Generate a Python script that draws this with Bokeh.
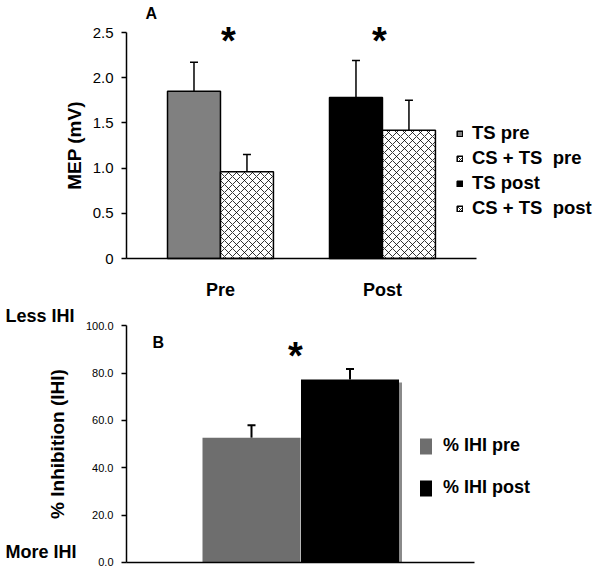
from bokeh.plotting import figure
from bokeh.models import (Range1d, FixedTicker, Whisker, TeeHead, Legend, LinearAxis,
                          LegendItem, Label, ColumnDataSource)
from bokeh.layouts import column
from bokeh.embed import file_html
from bokeh.resources import INLINE

FONT = "Liberation Sans"

# ---------------- Panel A data ----------------
groups = ["Pre", "Post"]
mep_series = ["TS pre", "CS + TS  pre", "TS post", "CS + TS  post"]
mep_group = ["Pre", "Pre", "Post", "Post"]
mep_value = [1.85, 0.96, 1.78, 1.42]
mep_error = [0.32, 0.19, 0.41, 0.33]
mep_ticks = [0, 0.5, 1.0, 1.5, 2.0, 2.5]
mep_tick_labels = ["0", "0.5", "1.0", "1.5", "2.0", "2.5"]

# ---------------- Panel B data ----------------
ihi_series = ["% IHI pre", "% IHI post"]
ihi_value = [52.7, 77.3]
ihi_error = [5.3, 4.5]
ihi_ticks = [0, 20, 40, 60, 80, 100]
ihi_tick_labels = ["0.0", "20.0", "40.0", "60.0", "80.0", "100.0"]

# ---------------- styles / layout ----------------
hatch = dict(fill_color="white", hatch_pattern="diagonal_cross", hatch_color="black",
             hatch_scale=8, hatch_weight=0.8)
mep_styles = [dict(fill_color="#808080"), hatch, dict(fill_color="black"), hatch]
mep_offsets = [-0.1635, 0.1635, -0.1635, 0.1635]
MEP_BAR_W = 0.327
group_pos = {g: i + 1 for i, g in enumerate(groups)}


def style_axis(ax):
    ax.axis_line_color = "black"
    ax.axis_line_width = 1.5
    ax.major_tick_line_color = "black"
    ax.major_tick_line_width = 1.5
    ax.minor_tick_line_color = None
    ax.major_label_text_font = FONT
    ax.axis_label_text_font = FONT
    ax.axis_label_text_font_style = "bold"
    ax.axis_label_text_color = "black"
    ax.major_label_text_color = "black"


def text_label(plot, text, x, y, size, x_units="screen", y_units="screen", align="left"):
    plot.add_layout(Label(x=x, y=y, x_units=x_units, y_units=y_units, text=text,
                          text_align=align, text_font=FONT, text_font_style="bold",
                          text_font_size=size, text_color="black"))


def bare_figure(w, h, xr, yr):
    p = figure(width=w, height=h, x_range=xr, y_range=yr,
               x_axis_location=None, y_axis_location=None,
               output_backend="svg", toolbar_location=None,
               min_border_left=0, min_border_right=0,
               min_border_top=0, min_border_bottom=0)
    p.outline_line_color = None
    p.grid.visible = False
    return p


# ================= Panel A =================
pa = bare_figure(600, 300, Range1d(-0.358, 3.346), Range1d(-0.4646, 2.854))

legend_items_a = []
for i in range(len(mep_series)):
    xc = group_pos[mep_group[i]] + mep_offsets[i]
    src = ColumnDataSource(dict(x=[xc], top=[mep_value[i]], lower=[mep_value[i]],
                                upper=[mep_value[i] + mep_error[i]]))
    r = pa.vbar(x="x", top="top", width=MEP_BAR_W, source=src,
                line_color="black", line_width=1.5, **mep_styles[i])
    pa.add_layout(Whisker(source=src, base="x", lower="lower", upper="upper",
                          dimension="height", line_color="black", line_width=1.5,
                          upper_head=TeeHead(size=8, line_color="black", line_width=1.5),
                          lower_head=None))
    legend_items_a.append(LegendItem(label=mep_series[i], renderers=[r]))

xa = LinearAxis(fixed_location=0, bounds=(0.42, 2.58),
                ticker=FixedTicker(ticks=[group_pos[g] for g in groups]))
style_axis(xa)
xa.major_label_overrides = {group_pos[g]: g for g in groups}
xa.major_tick_line_color = None
xa.major_label_text_font_size = "18px"
xa.major_label_text_font_style = "bold"
xa.major_label_standoff = 15
pa.add_layout(xa, "below")

ya = LinearAxis(fixed_location=0.42, bounds=(0, 2.5), ticker=FixedTicker(ticks=mep_ticks))
style_axis(ya)
ya.major_label_overrides = {t: l for t, l in zip(mep_ticks, mep_tick_labels)}
ya.major_tick_out = 5
ya.major_tick_in = 0
ya.major_label_standoff = 8
ya.major_label_text_font_size = "15px"
ya.axis_label = "MEP (mV)"
ya.axis_label_text_font_size = "19px"
ya.axis_label_standoff = 5
pa.add_layout(ya, "left")

leg_a = Legend(items=legend_items_a, location=(456, 81), glyph_width=7, glyph_height=7,
               label_text_font=FONT, label_text_font_style="bold",
               label_text_font_size="18.5px", label_text_color="black",
               label_standoff=9, spacing=3, label_height=20, padding=0, margin=0,
               border_line_color=None, background_fill_alpha=0)
pa.add_layout(leg_a, "center")

text_label(pa, "A", 145, 279, "16px")
for xs in (228, 379):
    text_label(pa, "*", xs, 239, "38px", align="center")

# ================= Panel B =================
pb = bare_figure(600, 274, Range1d(-2, 4), Range1d(-5.07, 110.69))

ihi_styles = [dict(fill_color="#6e6e6e"), dict(fill_color="black")]
ihi_offsets = [-0.49, 0.495]
IHI_BAR_W = 0.98
ihi_center = 1

# subtle shadow behind the post bar
shadow_src = ColumnDataSource(dict(x=[ihi_center + ihi_offsets[1] + 0.03],
                                   top=[ihi_value[1] - 1.3]))
pb.vbar(x="x", top="top", width=IHI_BAR_W, source=shadow_src,
        fill_color="#8a8a8a", line_color=None)

legend_items_b = []
for i in range(len(ihi_series)):
    xc = ihi_center + ihi_offsets[i]
    src = ColumnDataSource(dict(x=[xc], top=[ihi_value[i]], lower=[ihi_value[i]],
                                upper=[ihi_value[i] + ihi_error[i]]))
    r = pb.vbar(x="x", top="top", width=IHI_BAR_W, source=src, line_color=None,
                **ihi_styles[i])
    pb.add_layout(Whisker(source=src, base="x", lower="lower", upper="upper",
                          dimension="height", line_color="black", line_width=2,
                          upper_head=TeeHead(size=8, line_color="black", line_width=2),
                          lower_head=None))
    legend_items_b.append(LegendItem(label=ihi_series[i], renderers=[r]))

yb = LinearAxis(fixed_location=-0.74, bounds=(0, 100), ticker=FixedTicker(ticks=ihi_ticks))
style_axis(yb)
yb.major_label_overrides = {t: l for t, l in zip(ihi_ticks, ihi_tick_labels)}
yb.major_tick_out = 5
yb.major_tick_in = 0
yb.major_label_standoff = 8
yb.major_label_text_font_size = "11px"
yb.axis_label = "% Inhibition (IHI)"
yb.axis_label_text_font_size = "19px"
yb.axis_label_standoff = 15
pb.add_layout(yb, "left")

xb = LinearAxis(fixed_location=0, bounds=(-0.74, 2.74), ticker=FixedTicker(ticks=[]))
style_axis(xb)
xb.major_label_text_font_size = "0px"
xb.major_tick_line_color = None
pb.add_layout(xb, "below")

leg_b = Legend(items=legend_items_b, location=(418, 76), glyph_width=15, glyph_height=20,
               label_text_font=FONT, label_text_font_style="bold",
               label_text_font_size="18px", label_text_color="black",
               label_standoff=10, spacing=21, label_height=20, padding=0, margin=0,
               border_line_color=None, background_fill_alpha=0)
pb.add_layout(leg_b, "center")

text_label(pb, "B", 152, 224, "16px")
text_label(pb, "*", 295, 198, "38px", align="center")
text_label(pb, "Less IHI", 5, 100, "18px", y_units="data")
text_label(pb, "More IHI", 5, 0, "18px", y_units="data")

layout = column(pa, pb)
open("out.html", "w").write(file_html(layout, INLINE))
